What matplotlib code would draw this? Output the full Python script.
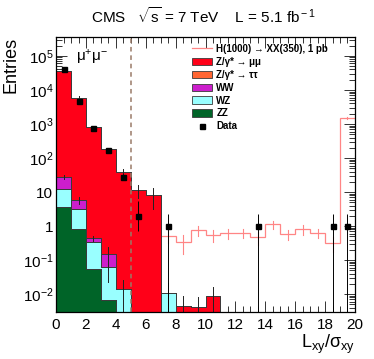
import matplotlib

matplotlib.use("Agg")
import matplotlib.pyplot as plt
import numpy as np
from matplotlib.lines import Line2D
from matplotlib.patches import Patch
from matplotlib.ticker import LogLocator, MultipleLocator, NullFormatter, FixedLocator, FixedFormatter

plt.rcParams["font.family"] = ["Liberation Sans", "DejaVu Sans"]
plt.rcParams["mathtext.fontset"] = "custom"
plt.rcParams["mathtext.rm"] = "Liberation Sans"
plt.rcParams["mathtext.it"] = "Liberation Sans:italic"
plt.rcParams["mathtext.bf"] = "Liberation Sans:bold"

# binning: 20 bins of width 1 in Lxy/sigma_xy
edges = np.arange(0, 21, 1)

# MC components (stacked bottom -> top)
zz = [3.6, 0.82, 0.054, 0.0065, 0, 0, 0, 0, 0, 0, 0, 0, 0, 0, 0, 0, 0, 0, 0, 0]
wz = [8.6, 2.34, 0.29, 0.056, 0.014, 0, 0, 0.011, 0, 0, 0, 0, 0, 0, 0, 0, 0, 0, 0, 0]
ww = [15.4, 2.6, 0.10, 0.088, 0, 0, 0, 0, 0, 0, 0, 0, 0, 0, 0, 0, 0, 0, 0, 0]
ztautau = [0] * 20
zmumu = [36000, 5790, 819, 185, 39, 11.5, 8.2, 0, 0.0045, 0.0041, 0.0087,
         0, 0, 0, 0, 0, 0, 0, 0, 0]

# MC stat. errors on top of stack
mc_err = [0, 900, 0, 0, 8, 5, 5, 0, 0.0045, 0.004, 0.007, 0, 0, 0, 0, 0, 0, 0, 0, 0]
ww_err = [4, 1.2, 0.08, 0.1, 0, 0, 0, 0, 0, 0, 0, 0, 0, 0, 0, 0, 0, 0, 0, 0]
wz_err = [0, 0, 0, 0.04, 0.012, 0, 0, 0.01, 0, 0, 0, 0, 0, 0, 0, 0, 0, 0, 0, 0]

# signal H(1000) -> XX(350), bins 7..19
sig_edges = np.arange(7, 21, 1)
signal = [0.51, 0.35, 0.76, 0.55, 0.62, 0.64, 0.47, 1.15, 0.58, 0.80, 0.64, 0.32, 1500]
sig_err = [0.2, 0.2, 0.25, 0.2, 0.2, 0.2, 0.2, 0.3, 0.2, 0.25, 0.2, 0.15, 60]

# data
data = [42000, 4800, 760, 170, 28, 2, 0, 1, 0, 0, 0, 0, 0, 1, 0, 0, 0, 0, 1, 1]
data_up = [205, 70, 28, 13, 5.3, 3.5, 0, 1.3, 0, 0, 0, 0, 0, 1.3, 0, 0, 0, 0, 1.3, 1.3]
data_dn = [205, 70, 28, 13, 5.3, 1.3, 0, 0.9999, 0, 0, 0, 0, 0, 0.9999, 0, 0, 0, 0, 0.9999, 0.9999]

C_ZMM = "#ff0018"
C_ZTT = "#ff6633"
C_WW = "#cc1ecc"
C_WZ = "#99ffff"
C_ZZ = "#006428"
C_SIG = "#ff8585"
EDGE = "#3a3a3a"

fig = plt.figure(figsize=(3.74, 3.59), dpi=100)
ax = fig.add_axes([0.150, 0.131, 0.799, 0.766])
ax.set_yscale("log")

floor = 1e-4
bottom = np.full(20, floor)
layers = [(zz, C_ZZ), (wz, C_WZ), (ww, C_WW), (ztautau, C_ZTT), (zmumu, C_ZMM)]
tops = []
for vals, col in layers:
    top = bottom + np.array(vals, dtype=float)
    ax.stairs(top, edges, baseline=bottom.copy(), fill=True, facecolor=col,
              edgecolor=EDGE, linewidth=0.6, zorder=2)
    ax.stairs(top, edges, baseline=bottom.copy(), fill=False, color=EDGE,
              linewidth=0.6, zorder=2.1)
    tops.append(top)
    bottom = top

centers = edges[:-1] + 0.5
wztop, wwtop, total = tops[1], tops[2], tops[4]
for c, t, e in zip(centers, total, mc_err):
    if e > 0:
        ax.plot([c, c], [t - e, t + e], color="#222222", lw=0.7, zorder=2.3)
for c, t, e in zip(centers, wwtop, ww_err):
    if e > 0:
        ax.plot([c, c], [t - e, t + e], color="#222222", lw=0.7, zorder=2.3)
for c, t, e in zip(centers, wztop, wz_err):
    if e > 0:
        ax.plot([c, c], [max(t - e, floor), t + e], color="#222222", lw=0.7, zorder=2.3)

# signal
ax.stairs(signal, sig_edges, color=C_SIG, lw=0.9, zorder=1.5, baseline=None)
sig_c = sig_edges[:-1] + 0.5
for c, v, e in zip(sig_c, signal, sig_err):
    ax.plot([c, c], [v - e, v + e], color=C_SIG, lw=0.8, zorder=1.5)

# cut line
ax.axvline(5, color="#9a7b68", lw=1.1, ls=(0, (3, 2.5)), zorder=3)

# data
d = np.array(data, dtype=float)
m = d > 0
ax.errorbar(centers[m], d[m], yerr=[np.array(data_dn)[m], np.array(data_up)[m]],
            fmt="s", color="black", ms=3.6, elinewidth=0.7, capsize=0, zorder=4)

ax.set_xlim(0, 20)
ax.set_ylim(3e-3, 3.6e5)

ax.xaxis.set_major_locator(MultipleLocator(2))
ax.xaxis.set_minor_locator(MultipleLocator(0.5))
ax.yaxis.set_major_locator(FixedLocator([1e-2, 1e-1, 1, 10, 1e2, 1e3, 1e4, 1e5]))
ax.yaxis.set_major_formatter(FixedFormatter(
    [r"$10^{-2}$", r"$10^{-1}$", "1", "10", r"$10^{2}$", r"$10^{3}$", r"$10^{4}$", r"$10^{5}$"]))
ax.yaxis.set_minor_locator(LogLocator(base=10, subs=np.arange(2, 10), numticks=20))
ax.yaxis.set_minor_formatter(NullFormatter())
ax.tick_params(which="both", direction="in", top=True, right=True, labelsize=11,
               width=0.7, color="#333333")
ax.tick_params(which="major", length=8)
ax.tick_params(which="minor", length=4)
ax.tick_params(axis="y", which="major", pad=2)
ax.tick_params(axis="x", which="major", pad=4)
for s in ax.spines.values():
    s.set_linewidth(0.9)
    s.set_zorder(5)

ax.set_xlabel(r"L$_{\rm xy}$/σ$_{\rm xy}$", fontsize=13, loc="right", labelpad=1)
ax.set_ylabel("Entries", fontsize=13, loc="top", labelpad=2)

fig.text(0.545, 0.955, r"CMS   $\sqrt{\rm s}$ = 7 TeV    L = 5.1 fb$^{\rm -1}$",
         ha="center", va="center", fontsize=11)
ax.text(0.065, 0.925, r"μ$^{+}$μ$^{-}$", transform=ax.transAxes, fontsize=11,
        ha="left", va="center")

handles = [
    Line2D([], [], color=C_SIG, lw=0.9),
    Patch(facecolor=C_ZMM, edgecolor=EDGE, lw=0.6),
    Patch(facecolor=C_ZTT, edgecolor=EDGE, lw=0.6),
    Patch(facecolor=C_WW, edgecolor=EDGE, lw=0.6),
    Patch(facecolor=C_WZ, edgecolor=EDGE, lw=0.6),
    Patch(facecolor=C_ZZ, edgecolor=EDGE, lw=0.6),
    Line2D([], [], marker="s", color="black", ls="none", ms=3.6),
]
labels = ["H(1000) → XX(350), 1 pb", "Z/γ* → μμ", "Z/γ* → ττ", "WW", "WZ", "ZZ", "Data"]
ax.legend(handles, labels, loc="upper left", bbox_to_anchor=(0.455, 0.975),
          frameon=False, prop={"weight": "bold", "size": 7}, handlelength=2.1,
          handleheight=0.8, handletextpad=0.4, labelspacing=0.3, borderpad=0,
          borderaxespad=0)

fig.savefig("out.png", dpi=100)
